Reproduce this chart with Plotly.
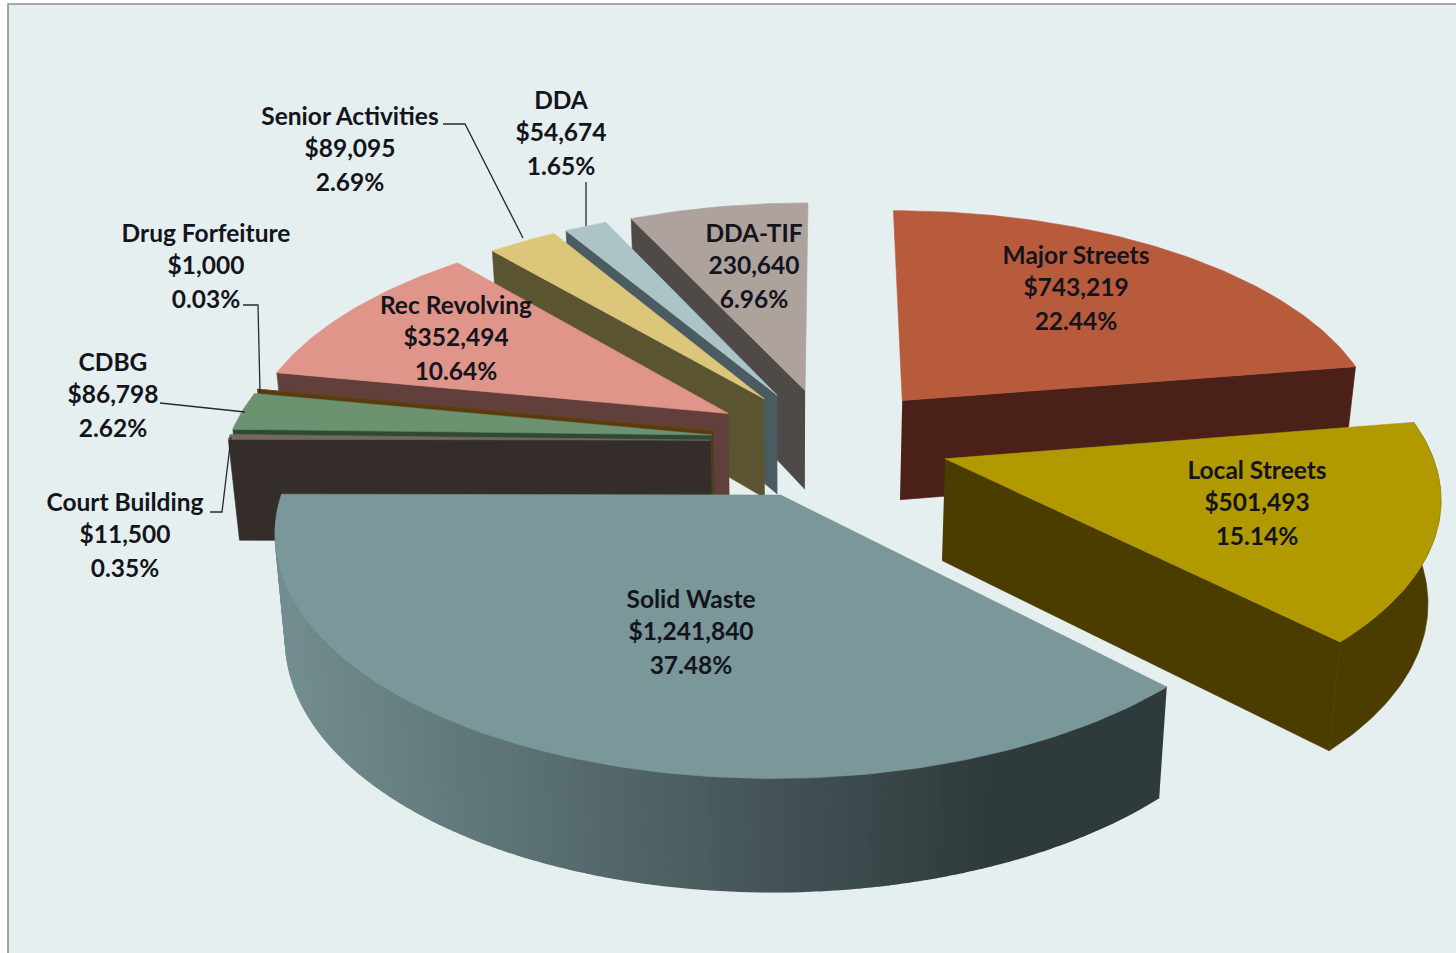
import numpy as np
import plotly.graph_objects as go

names = ["Major Streets", "Local Streets", "Solid Waste", "Court Building", "CDBG",
         "Drug Forfeiture", "Rec Revolving", "Senior Activities", "DDA", "DDA-TIF"]
amounts = [743219, 501493, 1241840, 11500, 86798, 1000, 352494, 89095, 54674, 230640]
percents = ["22.44%", "15.14%", "37.48%", "0.35%", "2.62%", "0.03%", "10.64%", "2.69%", "1.65%", "6.96%"]
amount_labels = ["$743,219", "$501,493", "$1,241,840", "$11,500", "$86,798", "$1,000", "$352,494",
                 "$89,095", "$54,674", "230,640", ]

TOP = ["#b85a3c", "#b09a00", "#7a9799", "#75695f", "#6c9270", "#6b4515", "#df958a", "#dcc67a", "#adc4c6", "#aea29d"]
WALL = ["#4a2018", "#4b3c00", "#3a4a4c", "#342d2a", "#2f4a34", "#5a3a10", "#61403c", "#5b5430", "#4a5c62", "#4f4a48"]
BG = "#e6efef"

CX, CY, RX, RY, P = 829, 441, 483, 227, 0.14
EXPLODE = {"Major Streets": 0.24, "Local Streets": 0.25, "Solid Waste": 0.25, "Court Building": 0.245,
           "CDBG": 0.245, "Drug Forfeiture": 0.245, "Rec Revolving": 0.245}
EXPLODE_DEFAULT = 0.235
VX, BOTTOM_SCALE = 790, 0.98
DEPTH, DEPTH_SLOPE = 101, 10


def project(ax, ay, bottom=False):
    s = 1 / (1 + P * ay)
    x = CX + RX * ax * s
    y = CY - RY * ay * s
    if bottom:
        x = VX + (x - VX) * BOTTOM_SCALE
        y = y + DEPTH - DEPTH_SLOPE * ay
    return x, y


def slice_geometry(i):
    total = sum(amounts)
    a0 = 360 * sum(amounts[:i]) / total
    a1 = 360 * sum(amounts[:i + 1]) / total
    mid = np.radians((a0 + a1) / 2)
    e = EXPLODE.get(names[i], EXPLODE_DEFAULT)
    ex, ey = e * np.sin(mid), e * np.cos(mid)
    th = np.radians(np.linspace(a0, a1, max(3, int(a1 - a0) + 2)))
    return ex, ey, th, a0, a1


def poly(xs, ys, color, w=0.6):
    return go.Scatter(x=list(xs), y=list(ys), mode="lines", fill="toself", fillcolor=color,
                      line=dict(color=color, width=w), hoverinfo="skip", showlegend=False)


fig = go.Figure()
order = [9, 8, 7, 6, 5, 4, 3, 0, 1, 2]
for i in order:
    ex, ey, th, a0, a1 = slice_geometry(i)
    ax = ex + np.sin(th)
    ay = ey + np.cos(th)
    tx, ty = project(ax, ay)
    bx, by = project(ax, ay, True)
    apx, apy = project(ex, ey)
    abx, aby = project(ex, ey, True)
    # only the cut wall that faces the viewer
    if a1 <= 180:
        fig.add_trace(poly([apx, tx[-1], bx[-1], abx], [apy, ty[-1], by[-1], aby], WALL[i]))
    elif a0 >= 180:
        fig.add_trace(poly([apx, tx[0], bx[0], abx], [apy, ty[0], by[0], aby], WALL[i]))
    # outer rim, front-facing only
    if i == 2:
        c0, c1 = np.array([0x2e, 0x3a, 0x3c]), np.array([0x74, 0x8f, 0x91])
        xl, xr = 1000.0, tx.min()
        for k in range(len(th) - 1):
            t = float(np.clip((tx[k] - xl) / (xr - xl), 0, 1))
            col = "rgb(%d,%d,%d)" % tuple(c0 + (c1 - c0) * t)
            fig.add_trace(poly([tx[k], tx[k + 1], bx[k + 1], bx[k]], [ty[k], ty[k + 1], by[k + 1], by[k]], col, 1.5))
    elif a1 > 90 and a0 < 270:
        fig.add_trace(poly(np.r_[tx, bx[::-1]], np.r_[ty, by[::-1]], WALL[i]))
    # top face
    fig.add_trace(poly(np.r_[apx, tx, apx], np.r_[apy, ty, apy], TOP[i]))

# leader lines
leaders = [([443, 465, 523], [124, 124, 238]),
           ([586, 586], [182, 226]),
           ([243, 258, 260], [305, 305, 392]),
           ([160, 245], [403, 412]),
           ([210, 222, 231], [512, 512, 437])]
for lx, ly in leaders:
    fig.add_trace(go.Scatter(x=lx, y=ly, mode="lines", line=dict(color="#2a2a2a", width=1.3),
                             hoverinfo="skip", showlegend=False))

# labels: (centre x, first-line y)
label_pos = {"Major Streets": (1076, 258), "Local Streets": (1257, 473), "Solid Waste": (691, 602),
             "Court Building": (125, 505), "CDBG": (113, 365), "Drug Forfeiture": (206, 236),
             "Rec Revolving": (456, 308), "Senior Activities": (350, 119), "DDA": (561, 103), "DDA-TIF": (754, 236)}
LINE = 33
lx, ly, lt = [], [], []
for n, a, p in zip(names, amount_labels, percents):
    x0, y0 = label_pos[n]
    for j, s in enumerate([n, a, p]):
        lx.append(x0)
        ly.append(y0 + j * LINE - (1 if j == 1 else 0))
        lt.append("<b>" + s + "</b>")
fig.add_trace(go.Scatter(x=lx, y=ly, mode="text", text=lt, textposition="middle center",
                         textfont=dict(family="Lato", size=24.5, color="#14141c"),
                         hoverinfo="skip", showlegend=False))

fig.update_layout(
    width=1456, height=953, margin=dict(l=0, r=0, t=0, b=0), autosize=False,
    paper_bgcolor="white", plot_bgcolor="white", showlegend=False,
    xaxis=dict(range=[0, 1456], visible=False, domain=[0, 1], fixedrange=True),
    yaxis=dict(range=[953, 0], visible=False, domain=[0, 1], fixedrange=True),
    shapes=[dict(type="rect", layer="below", x0=8, x1=1460, y0=4, y1=960, fillcolor=BG,
                 line=dict(color="#909090", width=1.6))],
)
fig.write_html("out.html", config={"displayModeBar": False},
               post_script="document.body.style.margin='0';document.body.style.overflow='hidden';")
